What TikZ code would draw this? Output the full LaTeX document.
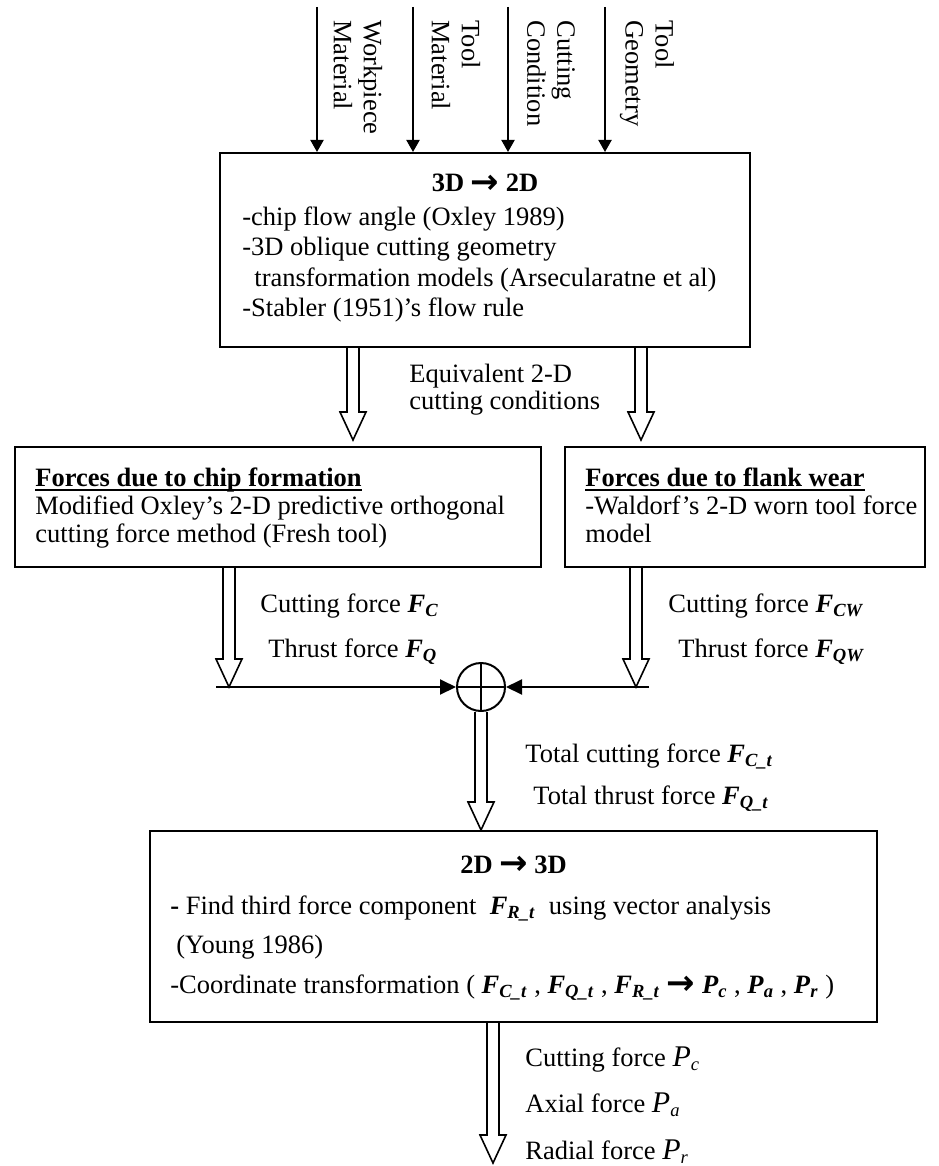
\documentclass[tikz,border=0pt]{standalone}
\usepackage{fontspec}
\setmainfont{Liberation Serif}
\newfontfamily\arrowfont{DejaVu Sans}
\usetikzlibrary{arrows.meta,calc,fit}

% bold italic force symbol with subscript
\newcommand{\bvec}[2]{\textbf{\textit{#1}}\textsubscript{\textbf{\textit{#2}}}}
% italic output force symbol with subscript
\newcommand{\ivec}[2]{{\fontsize{15}{15}\selectfont\textit{#1}}\textsubscript{\textit{#2}}}
% heavy right arrow used in the box titles
\newcommand{\harr}{{\arrowfont\bfseries\fontsize{17}{17}\selectfont\raisebox{-0.6pt}{→}}}
% heading with a heavy underline
\newcommand{\heading}[1]{\setbox0\hbox{\textbf{#1}}\rlap{\rule[-2.6pt]{\wd0}{1.1pt}}\box0}

% open block arrow pointing down, from #1 to the tip #2
\newcommand{\hollowdown}[2]{%
  \draw[hollow] let \p1=(#1), \p2=(#2) in
    (\x2-3pt,\y1) -- (\x2-3pt,\y2+14pt) -- (\x2-6.5pt,\y2+14pt) -- (\x2,\y2)
    -- (\x2+6.5pt,\y2+14pt) -- (\x2+3pt,\y2+14pt) -- (\x2+3pt,\y1);
}

\begin{document}
\begin{tikzpicture}[x=0.5pt,y=-0.5pt,
  every node/.style={font=\fontsize{13.25}{15}\selectfont, inner sep=0pt},
  box/.style={draw, line width=1pt, inner sep=0pt},
  feed/.style={line width=1pt, -{Triangle[length=6pt,width=6.5pt]}},
  sumarrow/.style={line width=1pt, -{Triangle[length=8pt,width=7.5pt]}},
  hollow/.style={line width=0.8pt, fill=white, line join=miter},
  txt/.style={anchor=base west},
  inlabel/.style={rotate=-90, anchor=west, align=left},
]
\useasboundingbox (0,0) rectangle (938,1166);

% ---------- boxes ----------
\node[box, fit={(220,153) (750,347)}] (topbox) {};
\node[box, fit={(15,447) (541,567)}] (chipbox) {};
\node[box, fit={(565,447) (925,567)}] (wearbox) {};
\node[box, fit={(150,831) (877,1022)}] (botbox) {};
\node[draw, circle, line width=1pt, minimum size=24pt] (sum) at (481,687) {};
\draw[line width=0.8pt] (sum.north) -- (sum.south) (sum.west) -- (sum.east);

% ---------- inputs ----------
\node[inlabel] (in1) at (358,20) {Workpiece\\Material};
\node[inlabel] (in2) at (456,20) {Tool\\Material};
\node[inlabel] (in3) at (551,20) {Cutting\\Condition};
\node[inlabel] (in4) at (647,20) {Tool\\Geometry};
\coordinate (a1) at (317,7);
\coordinate (a2) at (413,7);
\coordinate (a3) at (508,7);
\coordinate (a4) at (605,7);
\foreach \a in {a1,a2,a3,a4}
  \draw[feed] (\a) -- (\a |- topbox.north);

% ---------- 3D -> 2D ----------
\node[anchor=base] (t1) at (topbox.center |- 0,192) {\textbf{3D \harr{} 2D}};
\node[txt] (t2) at (242,226) {-chip flow angle (Oxley 1989)};
\node[txt] (t3) at (242,256) {-3D oblique cutting geometry};
\node[txt] (t4) at (254,286) {transformation models (Arsecularatne et al)};
\node[txt] (t5) at (242,316) {-Stabler (1951)'s flow rule};

\coordinate (h1) at (353,440);
\coordinate (h2) at (641,440);
\hollowdown{topbox.south -| h1}{h1}
\hollowdown{topbox.south -| h2}{h2}
\node[txt] (eq1) at (409,382) {Equivalent 2-D};
\node[txt] (eq2) at (409,409) {cutting conditions};

% ---------- 2-D force models ----------
\node[txt] (c1) at (35,486) {\heading{Forces due to chip formation}};
\node[txt] (c2) at (35,514) {Modified Oxley's 2-D predictive orthogonal};
\node[txt] (c3) at (35,542) {cutting force method (Fresh tool)};
\node[txt] (w1) at (585,486) {\heading{Forces due to flank wear}};
\node[txt] (w2) at (585,514) {-Waldorf's 2-D worn tool force};
\node[txt] (w3) at (585,542) {model};

\coordinate (h3) at (229,687);
\coordinate (h4) at (636,687);
\hollowdown{chipbox.south -| h3}{h3}
\hollowdown{wearbox.south -| h4}{h4}
\node[txt] (f1) at (260,612) {Cutting force \bvec{F}{C}};
\node[txt] (f2) at (268,657) {Thrust force \bvec{F}{Q}};
\node[txt] (f3) at (668,612) {Cutting force \bvec{F}{CW}};
\node[txt] (f4) at (678,657) {Thrust force \bvec{F}{QW}};

\coordinate (l1) at (216,687);
\coordinate (r1) at (649,687);
\draw[line width=1pt] (l1) -- (h3);
\draw[line width=1pt] (r1) -- (h4);
\draw[sumarrow] (h3) -- (sum.west);
\draw[sumarrow] (h4) -- (sum.east);

% ---------- totals ----------
\coordinate (h5) at (481,830);
\hollowdown{sum.south}{h5}
\node[txt] (s1) at (525,762) {Total cutting force \bvec{F}{C\_t}};
\node[txt] (s2) at (533,804) {Total thrust force \bvec{F}{Q\_t}};

% ---------- 2D -> 3D ----------
\node[anchor=base] (b1) at (botbox.center |- 0,873) {\textbf{2D \harr{} 3D}};
\node[txt] (b2) at (170,914) {\textbf{-} Find third force component \ \bvec{F}{R\_t} \ using vector analysis};
\node[txt] (b3) at (176,953) {(Young 1986)};
\node[txt] (b4) at (170,993) {-Coordinate transformation ( \bvec{F}{C\_t} , \bvec{F}{Q\_t} , \bvec{F}{R\_t} \harr{} \bvec{P}{c} , \bvec{P}{a} , \bvec{P}{r} )};

\coordinate (h6) at (493,1163);
\hollowdown{botbox.south -| h6}{h6}
\node[txt] (p1) at (525,1066) {Cutting force \ivec{P}{c}};
\node[txt] (p2) at (525,1112) {Axial force \ivec{P}{a}};
\node[txt] (p3) at (525,1159) {Radial force \ivec{P}{r}};
\end{tikzpicture}
\end{document}
